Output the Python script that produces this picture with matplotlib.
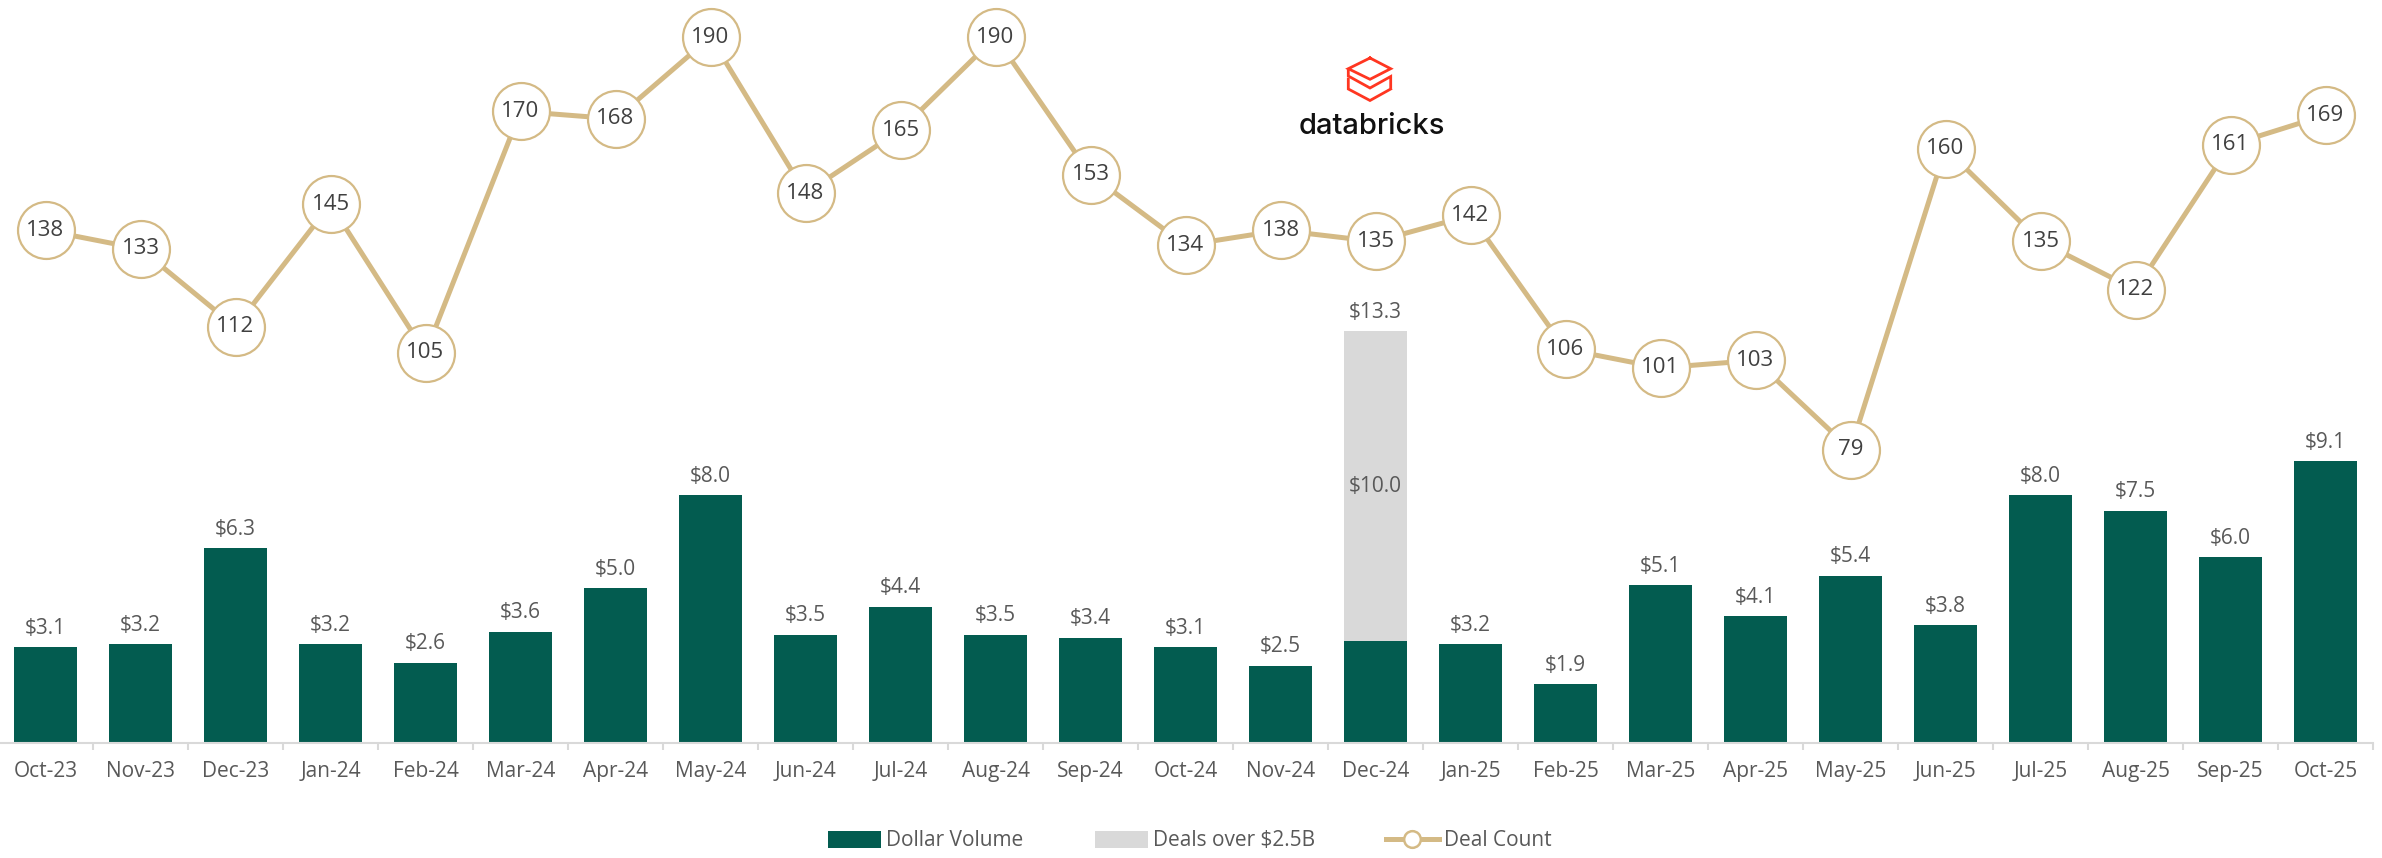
import matplotlib
matplotlib.use("Agg")
import matplotlib.pyplot as plt
from matplotlib.lines import Line2D
from matplotlib.patches import Patch
import numpy as np

months = ["Oct-23", "Nov-23", "Dec-23", "Jan-24", "Feb-24", "Mar-24", "Apr-24", "May-24",
          "Jun-24", "Jul-24", "Aug-24", "Sep-24", "Oct-24", "Nov-24", "Dec-24", "Jan-25",
          "Feb-25", "Mar-25", "Apr-25", "May-25", "Jun-25", "Jul-25", "Aug-25", "Sep-25", "Oct-25"]
dollar_volume = [3.1, 3.2, 6.3, 3.2, 2.6, 3.6, 5.0, 8.0, 3.5, 4.4, 3.5, 3.4, 3.1, 2.5, 3.3,
                 3.2, 1.9, 5.1, 4.1, 5.4, 3.8, 8.0, 7.5, 6.0, 9.1]
deals_over = [0, 0, 0, 0, 0, 0, 0, 0, 0, 0, 0, 0, 0, 0, 10.0,
              0, 0, 0, 0, 0, 0, 0, 0, 0, 0]
deal_count = [138, 133, 112, 145, 105, 170, 168, 190, 148, 165, 190, 153, 134, 138, 135,
              142, 106, 101, 103, 79, 160, 135, 122, 161, 169]

GREEN = "#035C50"
GRAY = "#D9D9D9"
TAN = "#D4BA85"
TXT = "#595959"
FONT = "Open Sans"
plt.rcParams["font.family"] = [FONT, "DejaVu Sans"]

W, H = 2382, 858
fig = plt.figure(figsize=(W / 100, H / 100), dpi=100)
ax = fig.add_axes([-2 / W, 1 - 743 / H, 2375 / W, 743 / H])
x = np.arange(len(months))

ax.bar(x, dollar_volume, width=0.67, color=GREEN, zorder=2)
ax.bar(x, deals_over, width=0.67, bottom=dollar_volume, color=GRAY, zorder=2)
ax.set_ylim(0, 24)
ax.set_xlim(-0.5, len(months) - 0.5)

for i, (v, d) in enumerate(zip(dollar_volume, deals_over)):
    tot = v + d
    ax.annotate(f"${tot:.1f}", (i, tot), xytext=(0, 6), textcoords="offset points",
                ha="center", va="bottom", fontsize=15, color=TXT)
    if d > 0:
        ax.text(i, v + d / 2, f"${d:.1f}", ha="center", va="center", fontsize=15, color=TXT)

for s in ["top", "right", "left"]:
    ax.spines[s].set_visible(False)
ax.spines["bottom"].set_color(GRAY)
ax.spines["bottom"].set_linewidth(1.5)
ax.set_yticks([])
ax.set_xticks(x)
ax.set_xticklabels(months, fontsize=15, color=TXT)
ax.tick_params(axis="x", which="major", length=0, pad=13)
ax.set_xticks(np.arange(-0.5, len(months), 1), minor=True)
ax.tick_params(axis="x", which="minor", length=5, color=GRAY, width=1.5)

ax2 = ax.twinx()
ax2.set_ylim(0, 200)
ax2.axis("off")
ax2.plot(x, deal_count, color=TAN, lw=3.6, zorder=3, marker="o", markersize=41,
         markerfacecolor="white", markeredgecolor=TAN, markeredgewidth=1.6)
for i, c in enumerate(deal_count):
    ax2.text(i, c, str(c), ha="center", va="center", fontsize=16, color="#404040", zorder=4)

# legend
handles = [Patch(facecolor=GREEN, edgecolor="none"),
           Patch(facecolor=GRAY, edgecolor="none"),
           Line2D([], [], color=TAN, lw=3.6, marker="o", markersize=12,
                  markerfacecolor="white", markeredgecolor=TAN, markeredgewidth=1.8)]
fig.legend(handles, ["Dollar Volume", "Deals over $2.5B", "Deal Count"],
           loc="center", bbox_to_anchor=(1190 / W, 1 - 841 / H), ncol=3, frameon=False,
           fontsize=15, handlelength=2.55, handletextpad=0.25, columnspacing=3.4,
           labelcolor=TXT, handleheight=0.85)

# databricks logo
def fx(px):
    return px / W
def fy(py):
    return 1 - py / H

RED = "#FF3621"
icon_lines = [
    [(1370, 58), (1390.7, 68.7), (1370, 79.3), (1348.3, 68.7), (1370, 58)],
    [(1348.3, 70.5), (1348.3, 76), (1370, 88), (1390.7, 76.5), (1390.7, 87)],
    [(1348.3, 79), (1348.3, 89), (1370, 100.5), (1390.7, 89)],
]
for pts in icon_lines:
    xs = [fx(p[0]) for p in pts]
    ys = [fy(p[1]) for p in pts]
    fig.add_artist(Line2D(xs, ys, transform=fig.transFigure, color=RED, lw=2.0,
                          solid_joinstyle="miter"))
fig.text(fx(1372), fy(126), "databricks", ha="center", va="center", fontsize=21,
         family=["Inter", "DejaVu Sans"], fontweight="medium", color="#111111")

fig.savefig("out.png", dpi=100)
